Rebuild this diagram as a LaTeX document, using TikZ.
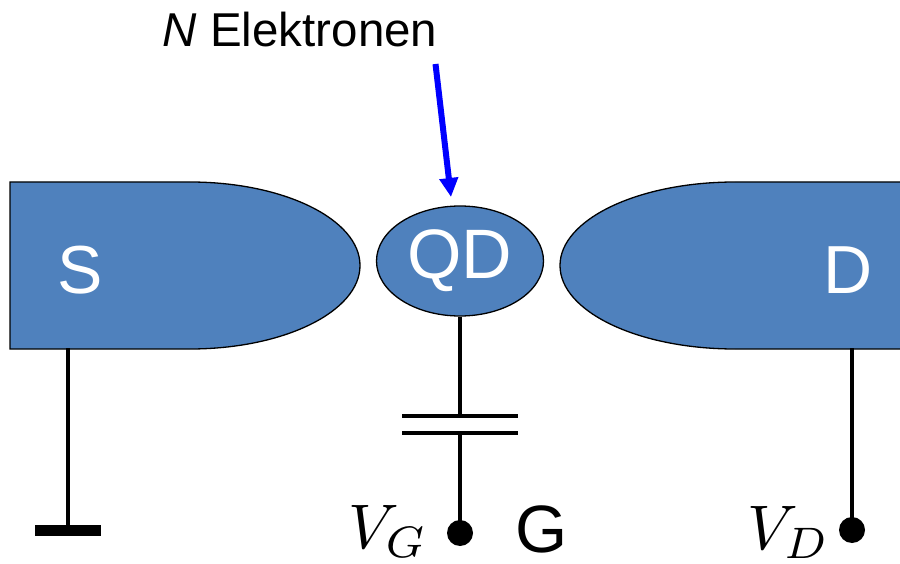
\documentclass[tikz,border=0pt]{standalone}
\usepackage{fontspec}
\setmainfont{Liberation Sans}
\usetikzlibrary{shapes.geometric,arrows.meta}
\definecolor{qdblue}{HTML}{4F81BD}
\tikzset{
  lead/.style={draw=black,line width=4.3pt},
  plate/.style={draw=black,line width=4.3pt},
  blob/.style={draw=black,fill=qdblue,line width=1.3pt},
  terminal/.style={circle,fill=black,inner sep=0pt,minimum size=26pt},
  wlabel/.style={text=white,font=\fontsize{70}{70}\selectfont,inner sep=0pt},
  sdlabel/.style={text=white,font=\fontsize{68}{68}\selectfont,inner sep=0pt},
  blabel/.style={text=black,font=\fontsize{67}{67}\selectfont,inner sep=0pt},
  vlabel/.style={text=black,font=\fontsize{10}{10}\selectfont,inner sep=0pt,scale=6.3},
  tlabel/.style={text=black,font=\fontsize{47.5}{47.5}\selectfont,inner sep=0pt},
  inject/.style={draw={rgb,255:red,0;green,0;blue,255},line width=6pt,-{Triangle[length=19pt,width=18pt]},shorten >=0pt}
}
\begin{document}
\begin{tikzpicture}[x=1pt,y=-1pt]
\useasboundingbox (0,0) rectangle (900,564);
% source
\draw[blob] (10,182) -- (190,182) arc[start angle=-90,end angle=90,x radius=170,y radius=83.5] -- (10,349) -- cycle;
% drain (runs off the right edge)
\begin{scope}
\clip (0,0) rectangle (900,564);
\draw[blob] (905,182) -- (735,182) arc[start angle=-90,end angle=-270,x radius=175,y radius=83.5] -- (905,349) -- cycle;
\end{scope}
% named points
\coordinate (Sfoot) at (68,348);
\coordinate (Dfoot) at (852,348);
\coordinate (plateA) at (460,416);
\coordinate (plateAl) at (402,416);
\coordinate (plateAr) at (518,416);
\coordinate (plateB) at (460,433);
\coordinate (plateBl) at (402,433);
\coordinate (plateBr) at (518,433);
\coordinate (arrowStart) at (435.5,64);
\coordinate (arrowEnd) at (451,197);
\node[ellipse,draw=black,fill=qdblue,line width=1.3pt,minimum width=167pt,minimum height=110pt,inner sep=0pt] (qd) at (460,261) {};
\node[wlabel] (qdt) at (460,261) {QD};
\node[sdlabel] (st) at (80,270) {S};
\node[sdlabel] (dt) at (848.5,270) {D};
\node[terminal] (vg) at (460,533) {};
\node[terminal] (vd) at (852,530) {};
\node[inner sep=0pt,minimum width=66pt,minimum height=11pt,fill=black] (gnd) at (68,530) {};
\draw[lead] (Sfoot) -- (gnd.center);
\draw[lead] (Dfoot) -- (vd.center);
\draw[lead] (qd.south) -- (plateA);
\draw[lead] (plateB) -- (vg.center);
\draw[plate] (plateAl) -- (plateAr);
\draw[plate] (plateBl) -- (plateBr);
\draw[inject] (arrowStart) -- (arrowEnd);
\node[tlabel,anchor=base] (nt) at (300,47) {\textit{N} Elektronen};
\node[blabel,anchor=base] (gt) at (542,552) {G};
\node[vlabel,anchor=base east] (vgt) at (429,548) {$V_G$};
\node[vlabel,anchor=base east] (vdt) at (831,549) {$V_D$};
\end{tikzpicture}
\end{document}
